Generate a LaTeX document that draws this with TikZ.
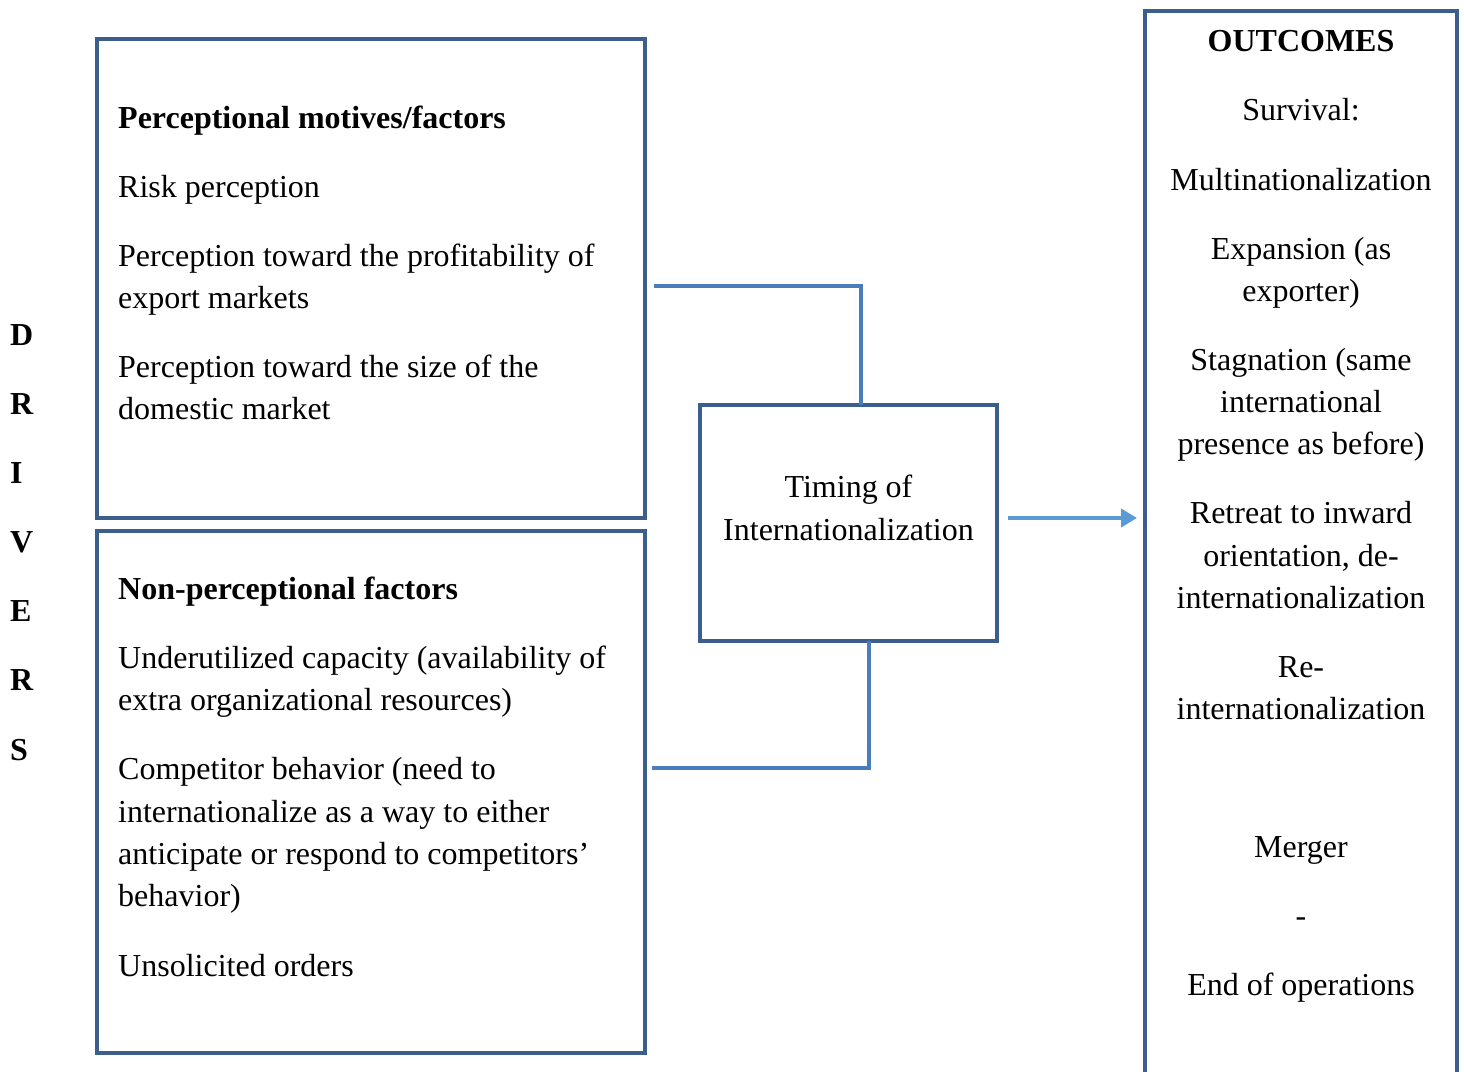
\documentclass[tikz,border=0pt]{standalone}
\usepackage{fontspec}
\setmainfont{Liberation Serif}
\usetikzlibrary{arrows.meta}
\definecolor{boxblue}{RGB}{59,94,140}
\definecolor{linkblue}{RGB}{74,126,187}
\definecolor{arrowblue}{RGB}{91,155,213}
\begin{document}
\begin{tikzpicture}[x=1pt,y=-1pt,
  box/.style={draw=boxblue,line width=4.5pt,rectangle,inner sep=0pt,outer sep=0pt},
  link/.style={draw=linkblue,line width=4pt},
  txt/.style={inner sep=0pt,font=\fontsize{32}{42}\selectfont},
  txtl/.style={txt,anchor=base west},
  txtc/.style={txt,anchor=base},
  bold/.style={font=\fontsize{32}{42}\selectfont\bfseries}]
\useasboundingbox[fill=white] (0,0) rectangle (1464,1071);
% boxes
\node[box,minimum width=548pt,minimum height=479pt] (perc) at (371,278.5) {};
\node[box,minimum width=548pt,minimum height=522pt] (nonp) at (371,792) {};
\node[box,minimum width=297pt,minimum height=236pt] (timing) at (848.5,523) {};
\node[box,minimum width=312pt,minimum height=1089pt] (outc) at (1301,555.5) {};
% DRIVERS
\foreach \l/\yy [count=\i] in {D/345,R/414,I/483,V/552,E/621,R/690,S/760}
  \node[txtl,bold] (drv\i) at (10,\yy) {\l};
% perceptional
\node[txtl,bold] (p0) at (118,128) {Perceptional motives/factors};
\foreach \t/\yy [count=\i] in {{Risk perception}/197,{Perception toward the profitability of}/266,{export markets}/308,{Perception toward the size of the}/377,{domestic market}/419}
  \node[txtl] (p\i) at (118,\yy) {\t};
% non-perceptional
\node[txtl,bold] (n0) at (118,599) {Non-perceptional factors};
\foreach \t/\yy [count=\i] in {{Underutilized capacity (availability of}/668,{extra organizational resources)}/710,{Competitor behavior (need to}/779,{internationalize as a way to either}/822,{anticipate or respond to competitors’}/864,{behavior)}/906,{Unsolicited orders}/976}
  \node[txtl] (n\i) at (118,\yy) {\t};
% timing
\node[txtc] (tm1) at (848.5,497) {Timing of};
\node[txtc] (tm2) at (848.5,540) {Internationalization};
% outcomes
\node[txtc,bold] (o0) at (1301,51) {OUTCOMES};
\foreach \t/\yy [count=\i] in {{Survival:}/120,{Multinationalization}/190,{Expansion (as}/259,{exporter)}/301,{Stagnation (same}/370,{international}/412,{presence as before)}/454,{Retreat to inward}/523,{orientation, de-}/566,{internationalization}/608,{Re-}/677,{internationalization}/719,{Merger}/857,{-}/926,{End of operations}/995}
  \node[txtc] (o\i) at (1301,\yy) {\t};
% connectors
\coordinate (c1) at (654,286);
\coordinate (c2) at (652,768);
\coordinate (a1) at (1008,518);
\coordinate (a2) at (1137,518);
\draw[link] (c1) -| ([xshift=12.5pt]timing.north);
\draw[link] (c2) -| ([xshift=20.5pt]timing.south);
\draw[draw=arrowblue,line width=4pt,-{Triangle[length=16pt,width=18pt]}] (a1) -- (a2);
\end{tikzpicture}
\end{document}
